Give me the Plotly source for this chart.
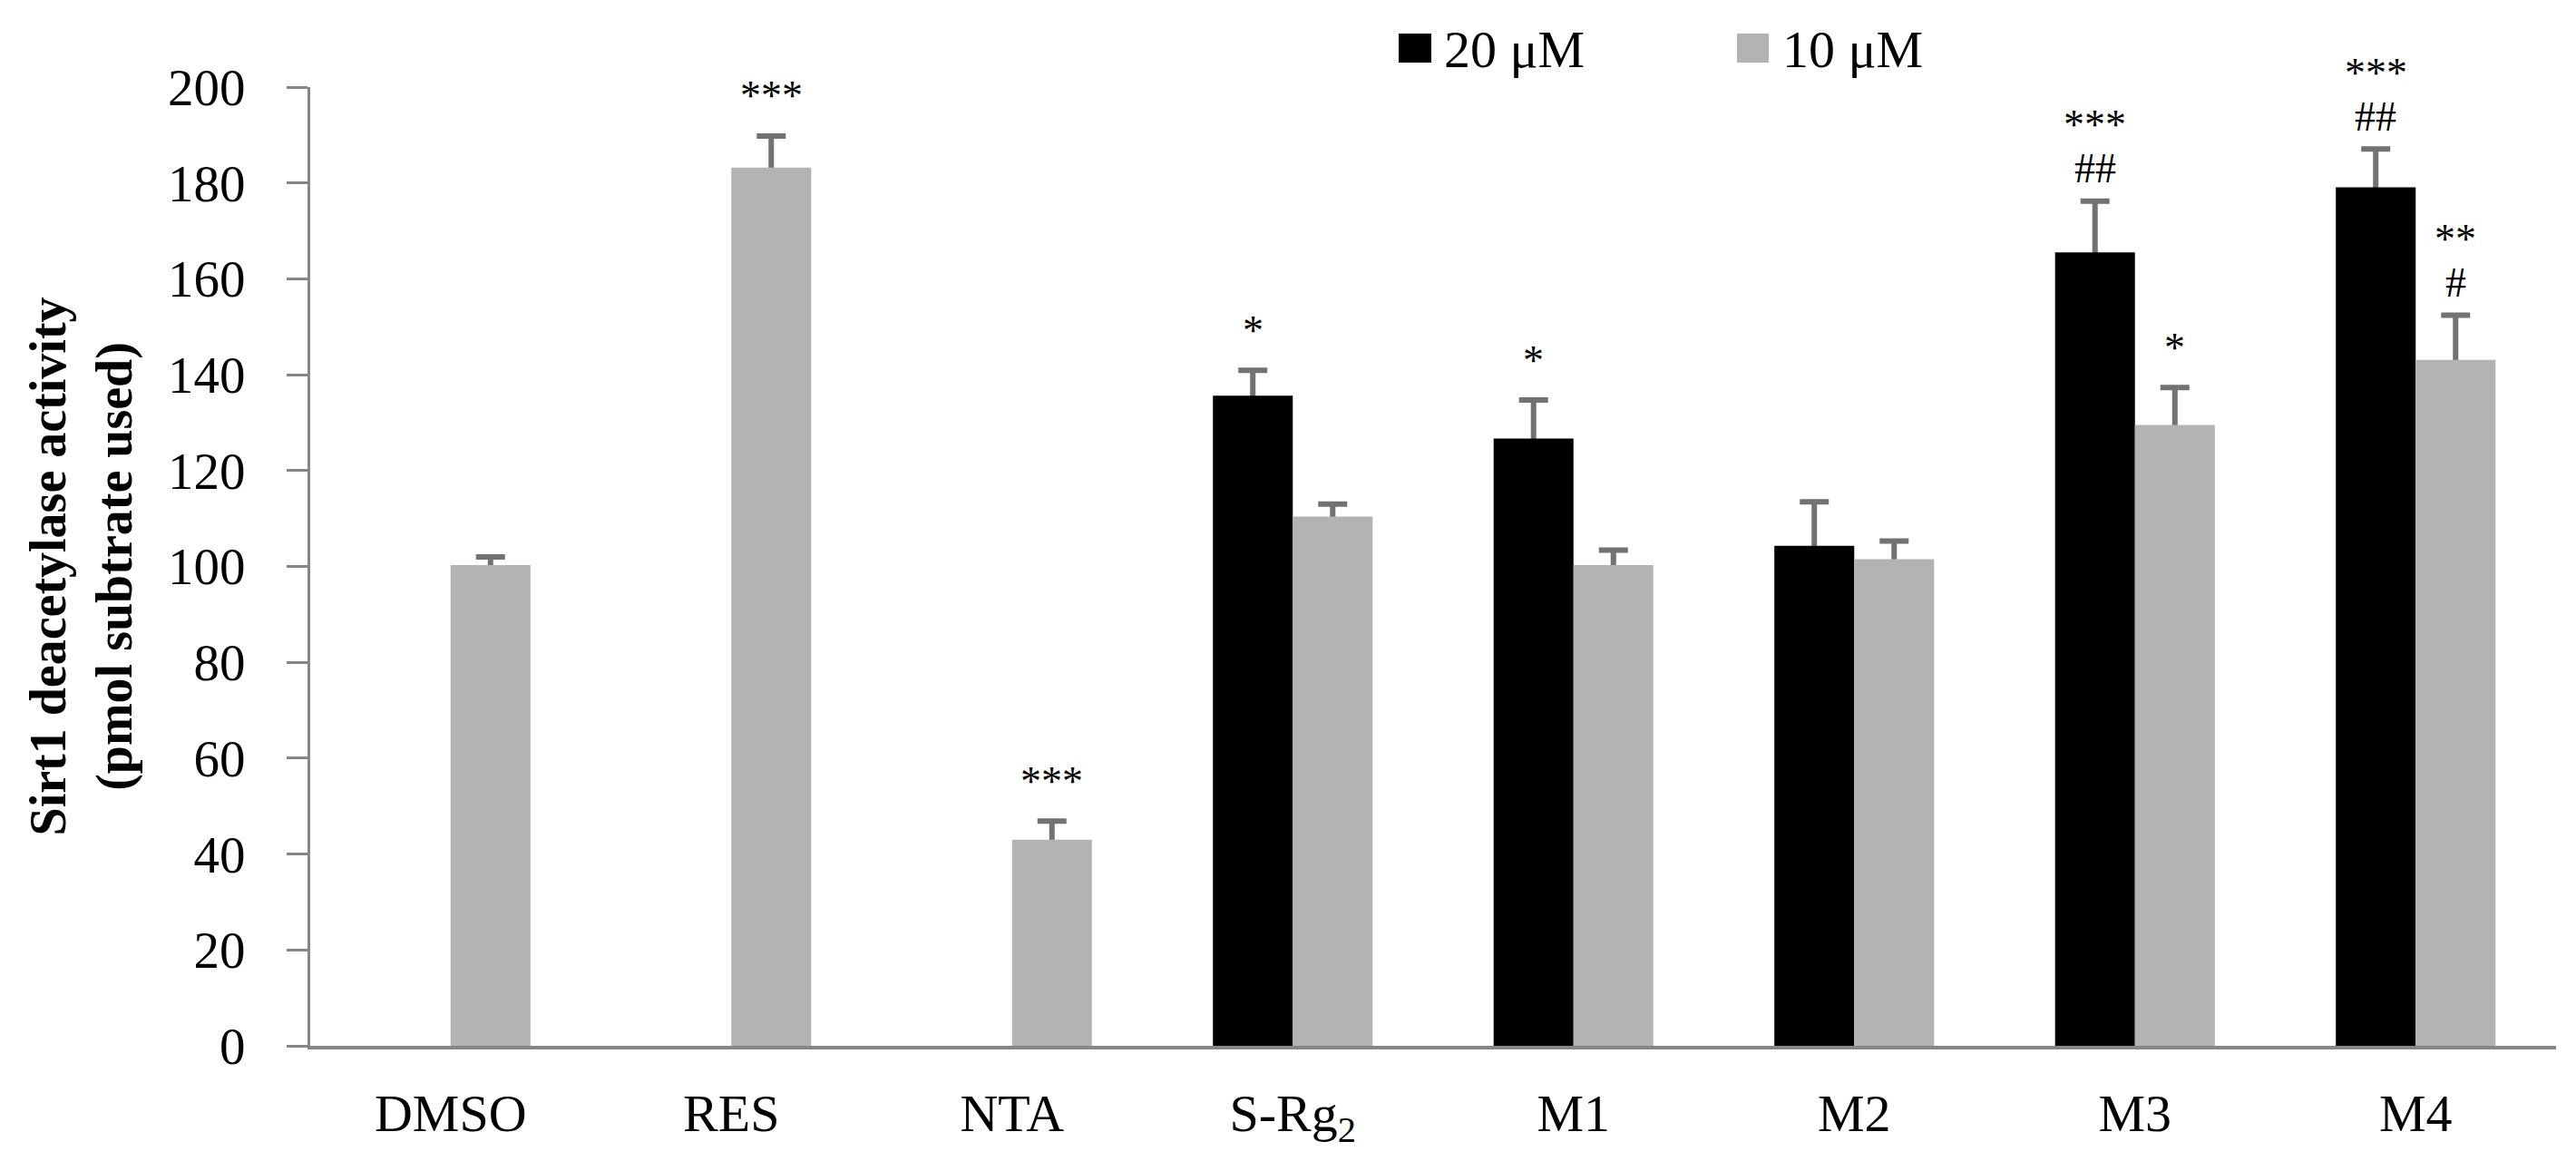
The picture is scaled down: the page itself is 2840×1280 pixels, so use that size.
import plotly.graph_objects as go

# ---- data ----
categories = ["DMSO", "RES", "NTA", "S-Rg<sub>2</sub>", "M1", "M2", "M3", "M4"]
act_20uM = [None, None, None, 135.6, 126.7, 104.3, 165.5, 179.1]
err_20uM = [None, None, None, 5.3, 8.0, 9.2, 10.7, 8.0]
act_10uM = [100.3, 183.2, 43.0, 110.4, 100.3, 101.5, 129.5, 143.1]
err_10uM = [1.7, 6.6, 3.9, 2.6, 3.1, 3.8, 7.8, 9.3]
star_20uM = ["", "", "", "*", "*", "", "***", "***"]
hash_20uM = ["", "", "", "", "", "", "##", "##"]
star_10uM = ["", "***", "***", "", "", "", "*", "**"]
hash_10uM = ["", "", "", "", "", "", "", "#"]
series_names = ["20 μM", "10 μM"]
y_ticks = [0, 20, 40, 60, 80, 100, 120, 140, 160, 180, 200]

FONT = "Liberation Serif"
BLACK = "#000000"
GREY = "#b3b3b3"
AXIS = "#868686"
ERR = "#727272"

fig = go.Figure()

# carrier traces (transparent) hold the error bars, drawn beneath the visible bars
for vals, errs, grp in [(act_20uM, err_20uM, "a"), (act_10uM, err_10uM, "b")]:
    fig.add_trace(go.Bar(
        x=categories, y=vals, offsetgroup=grp,
        marker=dict(color="rgba(0,0,0,0)", line=dict(width=0)),
        error_y=dict(type="data", array=errs, symmetric=True,
                     color=ERR, thickness=6, width=16),
        showlegend=False, hoverinfo="skip"))

for vals, col, grp, name in [(act_20uM, BLACK, "a", series_names[0]),
                             (act_10uM, GREY, "b", series_names[1])]:
    fig.add_trace(go.Bar(
        x=categories, y=vals, offsetgroup=grp, name=name,
        marker=dict(color=col, line=dict(width=0)),
        showlegend=False))

# significance marks
annos = []
def add_marks(vals, errs, stars, hashes, xshift):
    for c, v, e, s, h in zip(categories, vals, errs, stars, hashes):
        if v is None:
            continue
        top = v + e
        if h:
            annos.append(dict(x=c, y=top, text=h, xshift=xshift, yshift=36,
                              showarrow=False, yanchor="middle",
                              font=dict(family=FONT, size=46, color="black")))
            if s:
                annos.append(dict(x=c, y=top, text=s, xshift=xshift, yshift=84,
                                  showarrow=False, yanchor="middle",
                                  font=dict(family=FONT, size=46, color="black")))
        elif s:
            annos.append(dict(x=c, y=top, text=s, xshift=xshift, yshift=44,
                              showarrow=False, yanchor="middle",
                              font=dict(family=FONT, size=46, color="black")))

add_marks(act_20uM, err_20uM, star_20uM, hash_20uM, -44)
add_marks(act_10uM, err_10uM, star_10uM, hash_10uM, 44)

# manual legend
W, H = 2840, 1280
L, R, T, B = 342, 22, 96, 127
pw, ph = W - L - R, H - T - B
def px(x):
    return (x - L) / pw
def py(y):
    return (H - B - y) / ph

shapes = [
    dict(type="rect", xref="paper", yref="paper", x0=px(1542), x1=px(1578),
         y0=py(69), y1=py(37), fillcolor=BLACK, line=dict(width=0)),
    dict(type="rect", xref="paper", yref="paper", x0=px(1915), x1=px(1950),
         y0=py(69), y1=py(37), fillcolor=GREY, line=dict(width=0)),
]
annos.append(dict(xref="paper", yref="paper", x=px(1590), y=py(54), text=series_names[0],
                  xanchor="left", yanchor="middle", showarrow=False,
                  font=dict(family=FONT, size=58, color="black")))
annos.append(dict(xref="paper", yref="paper", x=px(1963), y=py(54), text=series_names[1],
                  xanchor="left", yanchor="middle", showarrow=False,
                  font=dict(family=FONT, size=58, color="black")))

fig.update_layout(
    width=W, height=H,
    margin=dict(l=L, r=R, t=T, b=B, pad=0),
    paper_bgcolor="white", plot_bgcolor="white",
    barmode="group", bargap=0.431, bargroupgap=0,
    font=dict(family=FONT, size=57, color="black"),
    shapes=shapes, annotations=annos,
    showlegend=False,
)
fig.update_xaxes(
    range=[-0.5, 7.5], showline=True, linecolor=AXIS, linewidth=4,
    ticks="", showgrid=False, zeroline=False,
    tickfont=dict(family=FONT, size=58, color="black"),
    ticklabelstandoff=20,
)
fig.update_yaxes(
    range=[0, 200], tickvals=y_ticks, showline=True, linecolor=AXIS, linewidth=3,
    ticks="outside", ticklen=23, tickwidth=3, tickcolor=AXIS,
    showgrid=False, zeroline=False,
    tickfont=dict(family=FONT, size=57, color="black"),
    ticklabelstandoff=34,
    title=dict(text="<b>Sirt1 deacetylase activity<br>(pmol subtrate used)</b>",
               font=dict(family=FONT, size=56, color="black"), standoff=22),
)

fig.write_html("out.html", config={"displayModeBar": False},
               post_script="document.body.style.margin='0';")
